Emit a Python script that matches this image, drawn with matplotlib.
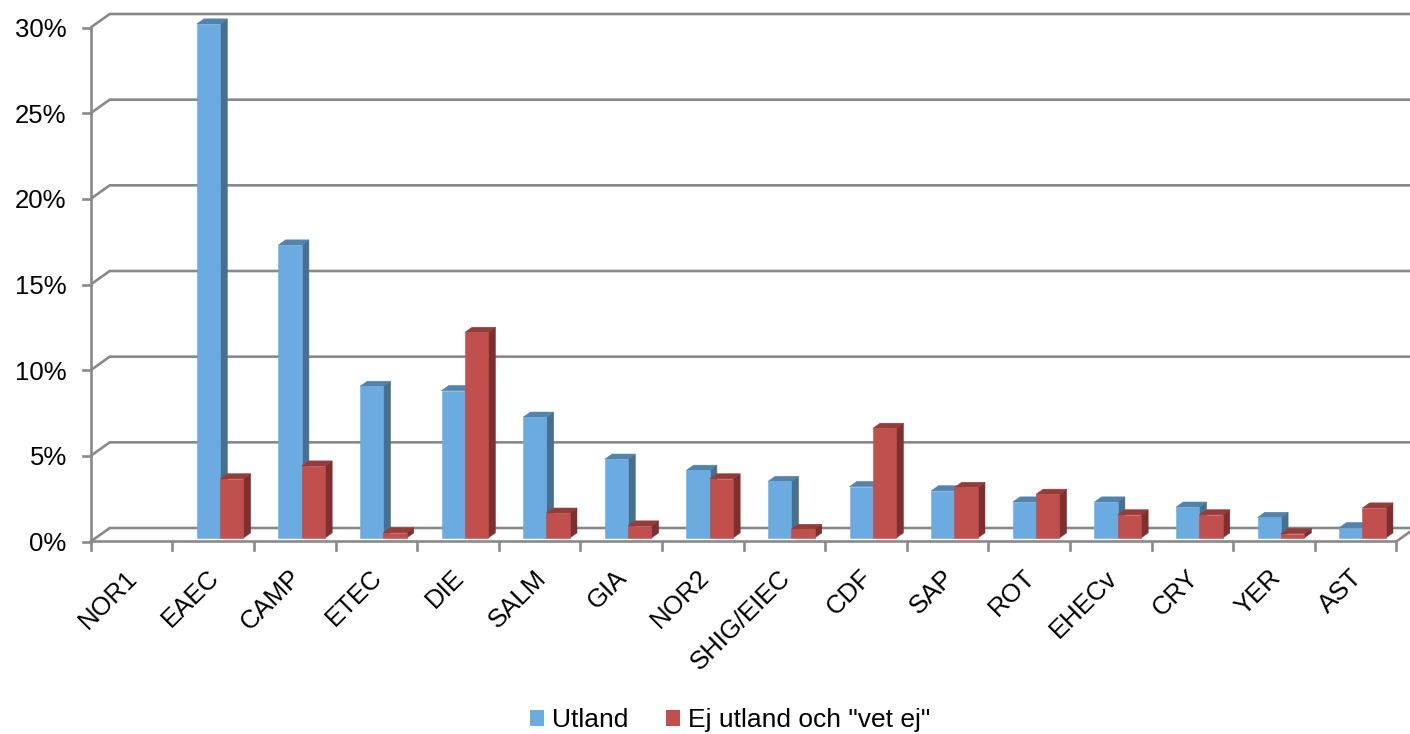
import matplotlib
matplotlib.use('Agg')
import matplotlib.pyplot as plt
from matplotlib.patches import Polygon, Patch

# ---------------- data ----------------
categories = ["NOR1", "EAEC", "CAMP", "ETEC", "DIE", "SALM", "GIA", "NOR2",
              "SHIG/EIEC", "CDF", "SAP", "ROT", "EHECv", "CRY", "YER", "AST"]
utland = [0.0, 30.0, 17.1, 8.85, 8.6, 7.05, 4.6, 3.95, 3.3, 3.0, 2.75, 2.1,
          2.1, 1.8, 1.2, 0.6]
ej_utland = [0.0, 3.45, 4.2, 0.3, 12.0, 1.45, 0.7, 3.45, 0.5, 6.4, 2.95, 2.55,
             1.35, 1.35, 0.25, 1.75]
series_names = ["Utland", 'Ej utland och "vet ej"']
yticks = [0, 5, 10, 15, 20, 25, 30]
ytick_labels = ["0%", "5%", "10%", "15%", "20%", "25%", "30%"]

# ---------------- style ----------------
plt.rcParams['font.family'] = ['Liberation Sans', 'DejaVu Sans']
blue_faces = ("#6CABDF", "#46708F", "#5183AC")   # front, side, top
red_faces = ("#C0504D", "#7E2F2E", "#943C3A")
grid_col = "#898989"

W, H = 1410, 734
fig = plt.figure(figsize=(W / 100, H / 100), dpi=100)
ax_left, ax_right = 90.7, 1396.3       # front plane in px
ax_y0, ax_y1 = 541.5, 27.5             # px from top for 0% and 30%
ax = fig.add_axes([ax_left / W, (H - ax_y0) / H,
                   (ax_right - ax_left) / W, (ax_y0 - ax_y1) / H])
n = len(categories)
ax.set_xlim(0, n)
ax.set_ylim(0, 30)
ax.axis('off')

px_x = (ax_right - ax_left) / n
px_y = (ax_y0 - ax_y1) / 30.0
ddx = 19.0 / px_x      # full wall depth offset in data units
ddy = 13.5 / px_y

def off(d):
    return d * ddx, d * ddy

# ---------------- walls / gridlines ----------------
lw = 1.9
for v, lab in zip(yticks, ytick_labels):
    ax.plot([0, ddx, n + ddx], [v, v + ddy, v + ddy], color=grid_col, lw=lw,
            clip_on=False, zorder=1, solid_capstyle='butt')
    ax.plot([-8 / px_x, 0], [v, v], color=grid_col, lw=lw, clip_on=False, zorder=3)
    ax.text(-24 / px_x, v - 0.15, lab, ha='right', va='center', fontsize=18.5,
            color='black')

ax.plot([0, 0], [0, 30], color=grid_col, lw=lw, clip_on=False, zorder=3)
ax.plot([0, n, n + ddx], [0, 0, ddy], color=grid_col, lw=lw, clip_on=False, zorder=3)
for i in range(n + 1):
    ax.plot([i, i], [0, -8 / px_y], color=grid_col, lw=lw, clip_on=False, zorder=3)

# ---------------- bars ----------------
d1, d2 = 0.26, 0.64
bar_start, bar_w = 0.24, 0.285
for i in range(n):
    for k, (vals, faces) in enumerate([(utland, blue_faces), (ej_utland, red_faces)]):
        v = vals[i]
        if v <= 0:
            continue
        x0 = i + bar_start + k * bar_w
        x1 = x0 + bar_w
        ox1, oy1 = off(d1)
        ox2, oy2 = off(d2)
        front = [(x0 + ox1, oy1), (x1 + ox1, oy1), (x1 + ox1, v + oy1), (x0 + ox1, v + oy1)]
        side = [(x1 + ox1, oy1), (x1 + ox2, oy2), (x1 + ox2, v + oy2), (x1 + ox1, v + oy1)]
        top = [(x0 + ox1, v + oy1), (x1 + ox1, v + oy1), (x1 + ox2, v + oy2), (x0 + ox2, v + oy2)]
        z = 2 + i * 0.01 + k * 0.001
        for poly, col in zip([side, top, front], [faces[1], faces[2], faces[0]]):
            ax.add_patch(Polygon(poly, closed=True, facecolor=col, edgecolor=col,
                                 lw=0.4, clip_on=False, zorder=z))

# ---------------- category labels ----------------
for i, cat in enumerate(categories):
    ax.text(i + 0.5 - 6 / px_x, -24 / px_y, cat, rotation=45, ha='right', va='top',
            rotation_mode='anchor', fontsize=18.5, color='black')

# ---------------- legend ----------------
handles = [Patch(facecolor=blue_faces[0]), Patch(facecolor=red_faces[0])]
fig.legend(handles, series_names, loc='center', bbox_to_anchor=(730 / W, 1 - 720 / H),
           ncol=2, frameon=False, fontsize=19, handlelength=0.55, handleheight=0.55,
           handletextpad=0.3, columnspacing=1.4)

fig.savefig('out.png', dpi=100)
